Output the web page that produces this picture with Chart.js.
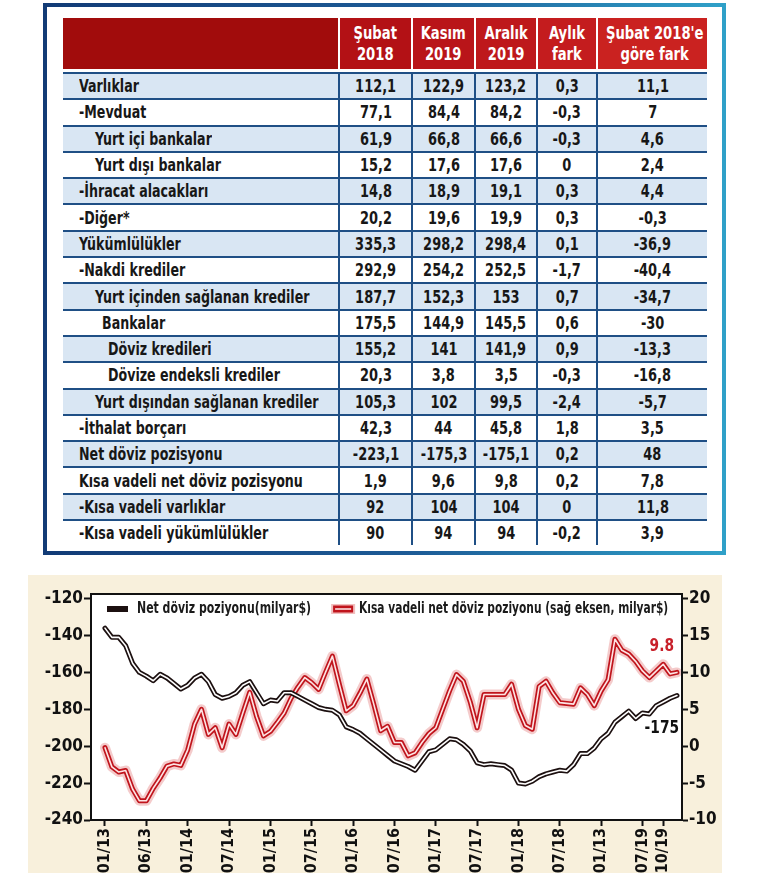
<!DOCTYPE html>
<html lang="tr">
<head>
<meta charset="utf-8">
<script src="https://cdn.jsdelivr.net/npm/chart.js@4.4.1/dist/chart.umd.min.js"></script>
<style>
  body { margin:0; width:770px; height:873px; background:#fff; position:relative; overflow:hidden;
         font-family:"Liberation Sans Narrow","DejaVu Sans Condensed",sans-serif; font-weight:bold; }
  #frame { position:absolute; left:43px; top:3px; width:683px; height:552px; box-sizing:border-box;
           border:4px solid #1b4f8a; border-image:linear-gradient(90deg,#123b76,#1d5c97 55%,#2fa0c8) 1; }
  #tbl { position:absolute; left:63px; top:18px; width:644px; border-collapse:separate; border-spacing:0; table-layout:fixed; }
  #tbl th { height:51px; padding:0; color:#fff; font-size:17px; line-height:21px; text-align:center;
            border-bottom:3px solid #fff; white-space:nowrap; }
  #tbl th span { display:inline-block; transform:scaleX(0.86); transform-origin:center; }
  #tbl th + th { border-left:2px solid #fff; }
  #tbl td { height:24.3px; padding:0; font-size:18px; line-height:24px; text-align:center; color:#171717;
            border-top:2px solid #1f4f85; white-space:nowrap; overflow:visible; }
  #tbl td span { display:inline-block; transform:scaleX(0.8); transform-origin:center; }
  #tbl td + td { border-left:2px solid #1f4f85; }
  #tbl td.lbl { text-align:left; }
  #tbl td.lbl span { transform:scaleX(0.78); transform-origin:left center; }
  #tbl tr.alt td { background:#d9e6f3; }
  #panel { position:absolute; left:28px; top:575px; width:694px; height:298px; background:#f8f0dc; }
</style>
</head>
<body>
<div id="frame"></div>
<table id="tbl">
  <colgroup><col style="width:275px"><col style="width:73px"><col style="width:63px"><col style="width:62px"><col style="width:60px"><col style="width:111px"></colgroup>
  <thead><tr id="head"></tr></thead>
  <tbody id="body"></tbody>
</table>
<div id="panel"><canvas id="line-graph" width="694" height="298"></canvas></div>

<script>
// Table data
var headers = ['', 'Şubat<br>2018', 'Kasım<br>2019', 'Aralık<br>2019', 'Aylık<br>fark', 'Şubat 2018\'e<br>göre fark'];
var headerColors = ['#a10c0c', '#b31115', '#b91519', '#be181b', '#c41c1e', '#ca2220'];

var rowLabels = ['Varlıklar', '-Mevduat', 'Yurt içi bankalar', 'Yurt dışı bankalar', '-İhracat alacakları', '-Diğer*',
  'Yükümlülükler', '-Nakdi krediler', 'Yurt içinden sağlanan krediler', 'Bankalar', 'Döviz kredileri',
  'Dövize endeksli krediler', 'Yurt dışından sağlanan krediler', '-İthalat borçarı', 'Net döviz pozisyonu',
  'Kısa vadeli net döviz pozisyonu', '-Kısa vadeli varlıklar', '-Kısa vadeli yükümlülükler'];
var rowIndent = [0, 0, 1, 1, 0, 0, 0, 0, 1, 2, 3, 3, 1, 0, 0, 0, 0, 0];

var subat2018 = ['112,1', '77,1', '61,9', '15,2', '14,8', '20,2', '335,3', '292,9', '187,7', '175,5', '155,2', '20,3', '105,3', '42,3', '-223,1', '1,9', '92', '90'];
var kasim2019 = ['122,9', '84,4', '66,8', '17,6', '18,9', '19,6', '298,2', '254,2', '152,3', '144,9', '141', '3,8', '102', '44', '-175,3', '9,6', '104', '94'];
var aralik2019 = ['123,2', '84,2', '66,6', '17,6', '19,1', '19,9', '298,4', '252,5', '153', '145,5', '141,9', '3,5', '99,5', '45,8', '-175,1', '9,8', '104', '94'];
var aylikFark = ['0,3', '-0,3', '-0,3', '0', '0,3', '0,3', '0,1', '-1,7', '0,7', '0,6', '0,9', '-0,3', '-2,4', '1,8', '0,2', '0,2', '0', '-0,2'];
var subatFark = ['11,1', '7', '4,6', '2,4', '4,4', '-0,3', '-36,9', '-40,4', '-34,7', '-30', '-13,3', '-16,8', '-5,7', '3,5', '48', '7,8', '11,8', '3,9'];

var indentPx = [16, 32, 39, 45];

var headRow = document.getElementById('head');
headers.forEach(function (h, i) {
  var th = document.createElement('th');
  th.innerHTML = h ? '<span>' + h + '</span>' : '';
  th.style.background = headerColors[i];
  headRow.appendChild(th);
});

var body = document.getElementById('body');
rowLabels.forEach(function (label, i) {
  var tr = document.createElement('tr');
  if (i % 2 === 0) tr.className = 'alt';
  var cells = [label, subat2018[i], kasim2019[i], aralik2019[i], aylikFark[i], subatFark[i]];
  cells.forEach(function (c, j) {
    var td = document.createElement('td');
    var sp = document.createElement('span');
    sp.textContent = c;
    td.appendChild(sp);
    if (j === 0) {
      td.className = 'lbl';
      td.style.paddingLeft = indentPx[rowIndent[i]] + 'px';
    }
    tr.appendChild(td);
  });
  body.appendChild(tr);
});

// Chart data
var months = [
  '01/13','02/13','03/13','04/13','05/13','06/13','07/13','08/13','09/13','10/13','11/13','12/13',
  '01/14','02/14','03/14','04/14','05/14','06/14','07/14','08/14','09/14','10/14','11/14','12/14',
  '01/15','02/15','03/15','04/15','05/15','06/15','07/15','08/15','09/15','10/15','11/15','12/15',
  '01/16','02/16','03/16','04/16','05/16','06/16','07/16','08/16','09/16','10/16','11/16','12/16',
  '01/17','02/17','03/17','04/17','05/17','06/17','07/17','08/17','09/17','10/17','11/17','12/17',
  '01/18','02/18','03/18','04/18','05/18','06/18','07/18','08/18','09/18','10/18','11/18','12/18',
  '01/19','02/19','03/19','04/19','05/19','06/19','07/19','08/19','09/19','10/19','11/19','12/19'
];

// Net döviz pozisyonu, milyar $ (left axis)
var netPosition = [
  -136, -141, -141, -145.5, -155, -160, -162, -164.5, -161, -163, -166, -169,
  -167, -163, -161, -165, -172, -174, -173, -171, -167, -165, -171, -177,
  -175, -175.5, -171, -171, -173, -175, -177, -179, -180, -180.5, -183, -189.5,
  -191, -193, -196, -199, -202, -205, -208, -209.5, -211, -213, -208, -203,
  -202, -199, -196, -196.5, -199, -202.5, -209, -210, -209.5, -210, -210.5, -213,
  -220, -220.5, -219, -216.5, -215, -214, -213, -213.5, -210, -204, -204, -201,
  -196, -193, -187, -184, -181, -185, -182, -182.5, -178, -176, -174, -172.5
];

// Kısa vadeli net döviz pozisyonu, milyar $ (right axis)
var shortTermPosition = [
  -0.2, -2.8, -3.5, -3.3, -5.8, -7.4, -7.4, -5.7, -4.3, -2.7, -2.4, -2.6,
  -0.5, 3.0, 5.0, 1.6, 2.5, -0.2, 3.0, 1.6, 4.5, 7.3, 4.0, 1.4,
  2.0, 3.2, 4.5, 6.5, 8.0, 9.3, 8.6, 7.7, 10.0, 12.2, 8.4, 4.8,
  5.5, 7.2, 9.1, 5.7, 2.1, 2.7, 0.5, 0.5, -1.3, -0.9, 0.5, 1.7,
  2.5, 5.0, 7.5, 9.7, 8.8, 6.0, 2.5, 7.0, 7.0, 7.0, 7.0, 8.4,
  5.0, 2.8, 2.3, 8.1, 8.8, 7.2, 5.9, 5.8, 5.7, 7.9, 7.0, 5.5,
  7.5, 9.0, 14.5, 13.0, 12.5, 11.5, 10.2, 9.3, 10.2, 11.1, 9.8, 10.0
];

var tickMonths = ['01/13','07/13','01/14','07/14','01/15','07/15','01/16','07/16','01/17','07/17','01/18','07/18','01/19','07/19','10/19'];
var tickLabels = ['01/13','06/13','01/14','07/14','01/15','07/15','01/16','07/16','01/17','07/17','01/18','07/18','01/13','07/19','10/19'];

var leftTicks = [-240, -120, 20];   // min, max, step
var rightTicks = [-10, 20, 5];

var FONT = '"Liberation Sans Narrow", "DejaVu Sans Condensed", sans-serif';

function pts(arr) {
  return arr.map(function (v, i) { return { x: i, y: v }; });
}

// squeezed text, the condensed look of the original
function narrowText(ctx, text, x, y, sx) {
  ctx.save();
  ctx.translate(x, y);
  ctx.scale(sx, 1);
  ctx.fillText(text, 0, 0);
  ctx.restore();
  return ctx.measureText(text).width * sx;
}

// Plot background, top frame, legend and end labels
var chartDecor = {
  id: 'chartDecor',
  beforeDatasetsDraw: function (chart) {
    var a = chart.chartArea, ctx = chart.ctx;
    ctx.save();
    ctx.fillStyle = '#fff';
    ctx.fillRect(a.left, a.top, a.right - a.left, a.bottom - a.top);
    ctx.restore();
  },
  afterDraw: function (chart) {
    var a = chart.chartArea, ctx = chart.ctx;
    ctx.save();
    ctx.strokeStyle = '#111';
    ctx.lineWidth = 2;
    ctx.strokeRect(a.left, a.top, a.right - a.left, a.bottom - a.top);

    // legend
    ctx.font = 'bold 16px ' + FONT;
    ctx.textBaseline = 'middle';
    var y = a.top + 15;
    var x = a.left + 16;
    ctx.fillStyle = '#1c1010';
    ctx.fillRect(x, y - 3, 21, 6);
    x += 30;
    ctx.fillStyle = '#1a1a1a';
    x += narrowText(ctx, 'Net döviz poziyonu(milyar$)', x, y, 0.76) + 22;
    ctx.fillStyle = 'rgba(214,70,70,0.35)';
    ctx.fillRect(x - 2, y - 5, 24, 10);
    ctx.fillStyle = '#c0141c';
    ctx.fillRect(x, y - 3.5, 20, 7);
    ctx.fillStyle = '#fbe0e0';
    ctx.fillRect(x + 2, y - 0.8, 16, 1.6);
    x += 26;
    ctx.fillStyle = '#1a1a1a';
    narrowText(ctx, 'Kısa vadeli net döviz poziyonu (sağ eksen, milyar$)', x, y, 0.74);

    // end labels
    var xs = chart.scales.x;
    ctx.font = 'bold 18px ' + FONT;
    ctx.textAlign = 'center';
    ctx.fillStyle = '#c8202a';
    narrowText(ctx, '9.8', xs.getPixelForValue(80.8), chart.scales.y2.getPixelForValue(13.5), 0.85);
    ctx.fillStyle = '#111';
    narrowText(ctx, '-175', xs.getPixelForValue(80.8), chart.scales.y.getPixelForValue(-190.5), 0.85);
    ctx.restore();
  }
};

Chart.defaults.color = '#111';
Chart.defaults.font.family = FONT;

var lGraph = document.getElementById('line-graph');

var myLineChart = new Chart(lGraph, {
  type: 'line',
  data: {
    datasets: [
      { data: pts(netPosition), yAxisID: 'y', borderColor: '#ffffff', borderWidth: 1.6, order: 1 },
      { data: pts(netPosition), yAxisID: 'y', borderColor: '#1c1010', borderWidth: 5, order: 2 },
      { data: pts(shortTermPosition), yAxisID: 'y2', borderColor: '#fde4e4', borderWidth: 1.6, order: 3 },
      { data: pts(shortTermPosition), yAxisID: 'y2', borderColor: '#c0141c', borderWidth: 5, order: 4 },
      { data: pts(shortTermPosition), yAxisID: 'y2', borderColor: 'rgba(214,70,70,0.28)', borderWidth: 10, order: 5 }
    ]
  },
  options: {
    responsive: false,
    animation: false,
    layout: { padding: { top: 19, left: 0, right: 0, bottom: 0 } },
    elements: {
      line: { tension: 0, borderJoinStyle: 'round', borderCapStyle: 'round' },
      point: { radius: 0 }
    },
    plugins: { legend: { display: false }, tooltip: { enabled: false } },
    scales: {
      x: {
        type: 'linear',
        min: -2.03,
        max: 83.73,
        afterBuildTicks: function (s) {
          s.ticks = tickMonths.map(function (m) { return { value: months.indexOf(m) }; });
        },
        afterFit: function (s) { s.height = 53; },
        grid: { drawOnChartArea: false, drawTicks: true, tickLength: 6, tickWidth: 2, color: '#111' },
        border: { display: true, width: 2, color: '#111' },
        ticks: {
          autoSkip: false, maxRotation: 90, minRotation: 90, padding: 2,
          font: { size: 16, weight: 'bold' },
          callback: function (v, i) { return tickLabels[i]; }
        }
      },
      y: {
        position: 'left',
        min: leftTicks[0],
        max: leftTicks[1] + 2.5,
        afterFit: function (s) { s.width = 63; },
        grid: { drawOnChartArea: false, drawTicks: true, tickLength: 7, tickWidth: 2, color: '#111' },
        border: { display: true, width: 2, color: '#111' },
        ticks: { stepSize: leftTicks[2], includeBounds: false, padding: 1, font: { size: 17, weight: 'bold' } }
      },
      y2: {
        position: 'right',
        min: rightTicks[0],
        max: rightTicks[1] + 0.625,
        afterFit: function (s) { s.width = 40; },
        grid: { drawOnChartArea: false, drawTicks: true, tickLength: 6, tickWidth: 2, color: '#111' },
        border: { display: true, width: 2, color: '#111' },
        ticks: { stepSize: rightTicks[2], includeBounds: false, padding: 1, font: { size: 17, weight: 'bold' } }
      }
    }
  },
  plugins: [chartDecor]
});
</script>
</body>
</html>
